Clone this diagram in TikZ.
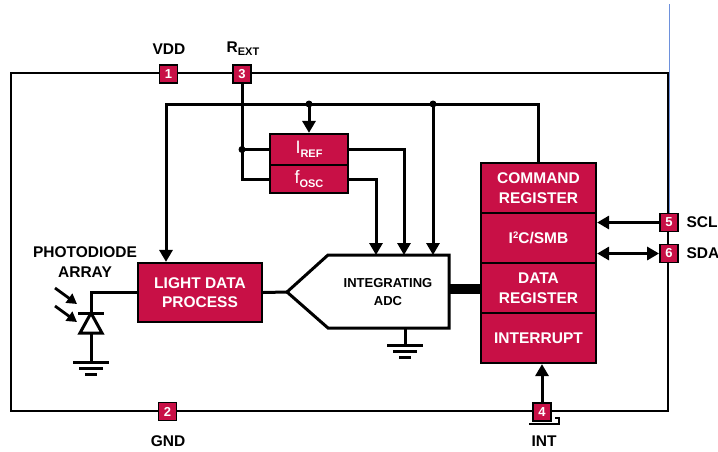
\documentclass[tikz,border=0pt]{standalone}
\usepackage{fontspec}
\setmainfont{Liberation Sans}
\usetikzlibrary{arrows.meta}
\definecolor{crim}{RGB}{200,16,70}
\definecolor{edgeblue}{RGB}{110,145,220}
\begin{document}
\begin{tikzpicture}[x=1pt,y=-1pt, line width=3pt,
  blk/.style={draw=black, fill=crim, text=white, font=\bfseries\fontsize{15.5}{19.5}\selectfont, align=center, inner sep=0pt, line width=2.2pt, minimum width=115pt, minimum height=50pt},
  small/.style={draw=black, fill=crim, text=white, font=\fontsize{18}{18}\selectfont, inner sep=0pt, line width=2.2pt, minimum width=78pt},
  subs/.style={},
  pin/.style={draw=black, fill=crim, text=white, font=\bfseries\fontsize{13}{13}\selectfont, minimum size=18pt, inner sep=0pt, line width=1.8pt},
  lbl/.style={font=\bfseries\fontsize{15.5}{19.5}\selectfont, inner sep=0pt, align=center},
  arr/.style={-{Triangle[length=12pt,width=13pt]}},
  dbl/.style={{Triangle[length=12pt,width=13pt]}-{Triangle[length=12pt,width=13pt]}},
  dot/.style={circle, fill=black, inner sep=0pt, minimum size=7pt}]
\useasboundingbox (0,0) rectangle (718,451);
% outer package outline
\draw[line width=2pt] (11,73) rectangle (668,411);
\draw[edgeblue, line width=1pt] (669,4) -- (669,213);
% pins
\node[pin] (p1) at (168.5,74) {1};
\node[pin] (p3) at (242,74) {3};
\node[pin] (p2) at (167.5,411.5) {2};
\node[pin] (p4) at (542,412) {4};
\node[pin] (p5) at (669,222.5) {5};
\node[pin] (p6) at (669,253.5) {6};
% pin labels
\node[lbl] (lvdd) at (169,49) {VDD};
\node[lbl] (lrext) at (243,49) {R\raisebox{-0.35ex}{\fontsize{11}{11}\selectfont EXT}};
\node[lbl] (lgnd) at (168,441) {GND};
\node[lbl] (lint) at (544,441) {INT};
\node[lbl, anchor=west] (lscl) at (685,222.5) {SCL};
\node[lbl, anchor=west] (lsda) at (685,253.5) {SDA};
% register block
\node[blk] (cmd) at (538.5,188) {COMMAND\\REGISTER};
\node[blk] (i2c) at (538.5,238) {I\raisebox{0.65ex}{\fontsize{9.5}{9.5}\selectfont 2}C/SMB};
\node[blk] (data) at (538.5,288) {DATA\\REGISTER};
\node[blk] (intr) at (538.5,338) {INTERRUPT};
% light data process
\node[blk, minimum width=124pt, minimum height=59pt] (ldp) at (200,292.5) {LIGHT DATA\\PROCESS};
% IREF / fosc
\node[small, minimum height=31pt] (iref) at (309,149.5) {I\raisebox{-0.4ex}{\bfseries\fontsize{11}{11}\selectfont REF}};
\node[small, minimum height=28pt] (fosc) at (309,179) {f\raisebox{-0.4ex}{\bfseries\fontsize{11}{11}\selectfont OSC}};
% ADC
\coordinate (adcL) at (287,292);
\draw[line join=miter] (adcL) -- (328,255) -- (449,255) -- (449,328) -- (328,328) -- cycle;
\node[lbl, font=\bfseries\fontsize{13}{17.5}\selectfont] (adc) at (388,292) {INTEGRATING\\ADC};
% supply wiring
\coordinate (tl) at (166,104);
\coordinate (d1) at (309,104);
\coordinate (d2) at (433,104);
\draw[arr] (cmd.north) |- (tl) -- (tl |- ldp.north);
\node[dot] (dd1) at (d1) {};
\node[dot] (dd2) at (d2) {};
\draw[arr] (d1) -- (iref.north);
\draw[arr] (d2) -- (433,255);
% Rext wiring
\coordinate (d3) at (242,149.5);
\draw (p3.south) |- (fosc.west);
\draw (d3) -- (iref.west);
\node[dot] (dd3) at (d3) {};
% reference/oscillator to ADC
\draw[arr] (iref.east) -| (404,255);
\draw[arr] (fosc.east) -| (376,255);
% ADC ground
\draw (405,328) -- (405,345);
\draw (387,345) -- (423,345);
\draw (393,351) -- (417,351);
\draw (399,357) -- (411,357);
% LDP to ADC
\draw (ldp.east) -- (adcL);
% bus
\draw[line width=10pt] (449,289) -- (data.west |- 0,289);
% photodiode
\draw (ldp.west) -| (91,313);
\draw[line join=miter] (80,333) -- (102,333) -- (91,313) -- cycle;
\draw (78,313) -- (104,313);
\draw (91,333) -- (91,362);
\draw (73,362) -- (109,362);
\draw (79,368) -- (103,368);
\draw (85,374) -- (97,374);
\draw[-{Triangle[length=10pt,width=11pt]}, line width=2.8pt] (55,288) -- (77,304);
\draw[-{Triangle[length=10pt,width=11pt]}, line width=2.8pt] (55,306) -- (77,322);
\node[lbl] (lpd) at (85,262) {PHOTODIODE\\ARRAY};
% serial interface
\draw[arr] (p5.west) -- (p5.west -| cmd.east);
\draw[dbl] (p6.west -| cmd.east) -- (p6.west);
% interrupt
\draw[arr] (p4.north) -- (p4.north |- intr.south);
\draw[line width=2.6pt, line join=miter] (529,424) -- (559,424) -- (559,418) -- (555,418);
\end{tikzpicture}
\end{document}
